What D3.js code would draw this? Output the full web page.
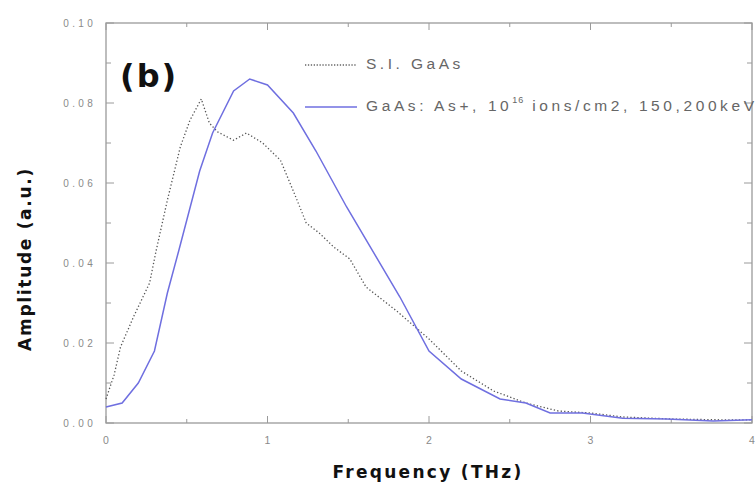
<!DOCTYPE html>
<html><head><meta charset="utf-8">
<script src="https://cdn.jsdelivr.net/npm/d3@7"></script>
<style>body{margin:0;background:#fff}svg{display:block}</style>
</head><body>
<script>
// Data
const freqSI = [0, 0.05, 0.09, 0.17, 0.27, 0.31, 0.38, 0.46, 0.52, 0.59, 0.64, 0.69, 0.79, 0.87, 0.97, 1.08, 1.16, 1.24, 1.32, 1.41, 1.51, 1.61, 1.8, 2.0, 2.2, 2.4, 2.6, 2.8, 3.0, 3.2, 3.5, 3.8, 4.0];
const ampSI  = [0.006, 0.012, 0.019, 0.0265, 0.035, 0.043, 0.0557, 0.069, 0.0757, 0.081, 0.075, 0.0728, 0.0707, 0.0725, 0.070, 0.0657, 0.058, 0.050, 0.0475, 0.044, 0.041, 0.034, 0.028, 0.021, 0.013, 0.008, 0.005, 0.003, 0.0025, 0.0015, 0.001, 0.0008, 0.0008];
const freqImp = [0, 0.1, 0.2, 0.3, 0.38, 0.45, 0.58, 0.66, 0.79, 0.89, 1.0, 1.16, 1.3, 1.49, 1.82, 2.0, 2.2, 2.44, 2.6, 2.75, 2.95, 3.2, 3.47, 3.76, 4.0];
const ampImp  = [0.004, 0.005, 0.010, 0.018, 0.0325, 0.043, 0.063, 0.0725, 0.083, 0.086, 0.0845, 0.0775, 0.068, 0.054, 0.0315, 0.018, 0.011, 0.006, 0.005, 0.0025, 0.0025, 0.0012, 0.001, 0.0005, 0.0008];
const xTicks = [0, 1, 2, 3, 4];
const yTicks = [0, 0.02, 0.04, 0.06, 0.08, 0.10];
const legendLabels = ["S.I. GaAs", "GaAs: As+, 10", "16", " ions/cm2, 150,200keV"];

const W = 756, H = 486;
const L = 106, R = 752, T = 23, B = 423;
const svg = d3.select("body").append("svg").attr("width", W).attr("height", H);
const x = d3.scaleLinear().domain([0, 4]).range([L, R]);
const y = d3.scaleLinear().domain([0, 0.10]).range([B, T]);
const axisColor = "#9a9a9a", labelColor = "#8a8a8a";

// frame
svg.append("rect").attr("x", L).attr("y", T).attr("width", R - L).attr("height", B - T)
  .attr("fill", "none").attr("stroke", axisColor).attr("stroke-width", 1.3);

const tickG = svg.append("g").attr("stroke", axisColor).attr("stroke-width", 1);
// x ticks (bottom & top, inward)
d3.range(0, 4.001, 0.5).forEach(v => {
  const len = Math.abs(v - Math.round(v)) < 1e-6 ? 7 : 4;
  tickG.append("line").attr("x1", x(v)).attr("x2", x(v)).attr("y1", B).attr("y2", B - len);
  tickG.append("line").attr("x1", x(v)).attr("x2", x(v)).attr("y1", T).attr("y2", T + len);
});
// y ticks (left & right, inward)
d3.range(0, 0.1001, 0.01).forEach((v, i) => {
  const len = i % 2 === 0 ? 8 : 5;
  tickG.append("line").attr("x1", L).attr("x2", L + len).attr("y1", y(v)).attr("y2", y(v));
  tickG.append("line").attr("x1", R).attr("x2", R - len).attr("y1", y(v)).attr("y2", y(v));
});

// tick labels
svg.append("g").selectAll("text").data(xTicks).join("text")
  .attr("x", d => x(d)).attr("y", B + 21).attr("text-anchor", "middle")
  .attr("font-family", "Liberation Sans, Arial, sans-serif").attr("font-size", 10.5)
  .attr("fill", labelColor).text(d => d3.format("d")(d));
svg.append("g").selectAll("text").data(yTicks).join("text")
  .attr("x", L - 10).attr("y", d => y(d) + 3.5).attr("text-anchor", "end")
  .attr("font-family", "Liberation Sans, Arial, sans-serif").attr("font-size", 10)
  .attr("letter-spacing", 3.3)
  .attr("fill", labelColor).text(d => d3.format(".2f")(d));

// axis titles
svg.append("text").attr("x", 428).attr("y", 478).attr("text-anchor", "middle")
  .attr("font-family", "DejaVu Sans, sans-serif").attr("font-weight", "bold")
  .attr("font-size", 17).attr("letter-spacing", 2.3).attr("fill", "#111")
  .text("Frequency (THz)");
svg.append("text").attr("transform", "translate(31,259) rotate(-90)").attr("text-anchor", "middle")
  .attr("font-family", "DejaVu Sans, sans-serif").attr("font-weight", "bold")
  .attr("font-size", 17).attr("letter-spacing", 1.7).attr("fill", "#111")
  .text("Amplitude (a.u.)");

// panel label
svg.append("text").attr("x", 120).attr("y", 87)
  .attr("font-family", "DejaVu Sans, sans-serif").attr("font-weight", "bold")
  .attr("font-size", 32).attr("letter-spacing", 2).attr("fill", "#111").text("(b)");

// lines
const line = d3.line().x(d => x(d[0])).y(d => y(d[1]));
svg.append("path").datum(d3.zip(freqSI, ampSI)).attr("d", line)
  .attr("fill", "none").attr("stroke", "#555").attr("stroke-width", 1.3)
  .attr("stroke-dasharray", "1.3,2.2");
svg.append("path").datum(d3.zip(freqImp, ampImp)).attr("d", line)
  .attr("fill", "none").attr("stroke", "#6f6fe0").attr("stroke-width", 1.5);

// legend
const lg = svg.append("g");
lg.append("line").attr("x1", 305).attr("x2", 357).attr("y1", 65).attr("y2", 65)
  .attr("stroke", "#666").attr("stroke-width", 1.3).attr("stroke-dasharray", "1.3,1.6");
lg.append("text").attr("x", 366).attr("y", 69)
  .attr("font-family", "Liberation Sans, Arial, sans-serif").attr("font-size", 15.5)
  .attr("letter-spacing", 3.5).attr("fill", "#666").text(legendLabels[0]);
lg.append("line").attr("x1", 305).attr("x2", 357).attr("y1", 107).attr("y2", 107)
  .attr("stroke", "#6f6fe0").attr("stroke-width", 1.5);
const t2 = lg.append("text").attr("x", 366).attr("y", 111)
  .attr("font-family", "Liberation Sans, Arial, sans-serif").attr("font-size", 15.5)
  .attr("letter-spacing", 3.6).attr("fill", "#666");
t2.append("tspan").text(legendLabels[1]);
t2.append("tspan").attr("dy", -8).attr("font-size", 9).attr("letter-spacing", 1).text(legendLabels[2]);
t2.append("tspan").attr("dy", 8).text(legendLabels[3]);
</script>
</body></html>
